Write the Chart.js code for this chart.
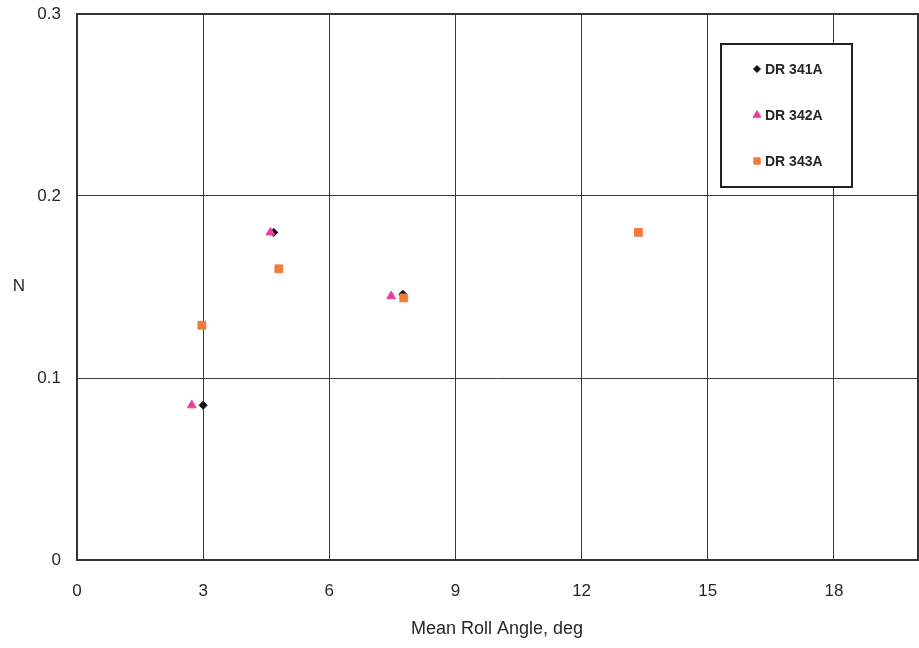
<!DOCTYPE html>
<html><head><meta charset="utf-8">
<script src="https://cdn.jsdelivr.net/npm/chart.js@4.4.1/dist/chart.umd.min.js"></script>
<style>html,body{margin:0;padding:0;background:#fff;} canvas{display:block;}</style>
</head><body>
<canvas id="c" width="919" height="648"></canvas>
<script>
const seriesNames = ['DR 341A', 'DR 342A', 'DR 343A'];
const dr341A_x = [3.0, 4.68, 7.75];
const dr341A_y = [0.085, 0.18, 0.146];
const dr342A_x = [2.73, 4.6, 7.47];
const dr342A_y = [0.085, 0.18, 0.145];
const dr343A_x = [2.97, 4.8, 7.77, 13.35];
const dr343A_y = [0.129, 0.16, 0.144, 0.18];
const xTicks = [0, 3, 6, 9, 12, 15, 18];
const yTicks = [0, 0.1, 0.2, 0.3];
const xTitle = 'Mean Roll Angle, deg';
const yTitle = 'N';

const pts = (xs, ys) => xs.map((x, i) => ({x: x, y: ys[i]}));
const TEXT = '#262626';
const FONT = "'Liberation Sans', Arial, sans-serif";

const framePlugin = {
  id: 'frame',
  afterDraw(chart) {
    const {ctx, chartArea: a} = chart;
    ctx.save();
    ctx.strokeStyle = '#333';
    ctx.lineWidth = 2;
    ctx.strokeRect(a.left, a.top, a.right - a.left, a.bottom - a.top);
    // axis titles
    ctx.fillStyle = TEXT;
    ctx.textAlign = 'center';
    ctx.textBaseline = 'middle';
    ctx.font = '18px ' + FONT;
    ctx.fillText(xTitle, 497, 629);
    ctx.font = '17px ' + FONT;
    ctx.fillText(yTitle, 19, 286);
    // legend
    const bx = 721, by = 44, bw = 131, bh = 143;
    ctx.fillStyle = '#fff';
    ctx.fillRect(bx, by, bw, bh);
    ctx.strokeStyle = '#222';
    ctx.lineWidth = 2;
    ctx.strokeRect(bx, by, bw, bh);
    const rows = [69, 115, 161];
    ctx.font = 'bold 14px ' + FONT;
    ctx.textAlign = 'left';
    chart.data.datasets.forEach((ds, i) => {
      ctx.fillStyle = ds.backgroundColor;
      ctx.strokeStyle = ds.borderColor;
      ctx.lineWidth = 1;
      Chart.helpers.drawPoint(ctx, {pointStyle: ds.pointStyle, radius: ds.legendRadius, rotation: 0, borderWidth: 1}, 757, rows[i]);
      ctx.fillStyle = TEXT;
      ctx.fillText(ds.label, 765, rows[i] + 1);
    });
    ctx.restore();
  }
};

new Chart(document.getElementById('c'), {
  type: 'scatter',
  data: {
    datasets: [
      {label: seriesNames[0], data: pts(dr341A_x, dr341A_y), pointStyle: 'rectRot', pointRadius: 4, legendRadius: 3.5,
       backgroundColor: '#111', borderColor: '#111', borderWidth: 1, order: 2},
      {label: seriesNames[1], data: pts(dr342A_x, dr342A_y), pointStyle: 'triangle', pointRadius: 5, legendRadius: 4.5,
       backgroundColor: '#ec3d9c', borderColor: '#ec3d9c', borderWidth: 1, order: 1},
      {label: seriesNames[2], data: pts(dr343A_x, dr343A_y), pointStyle: 'rect', pointRadius: 5.5, legendRadius: 4.5,
       backgroundColor: '#f27a3c', borderColor: '#f27a3c', borderWidth: 1, order: 0}
    ]
  },
  options: {
    responsive: false,
    animation: false,
    devicePixelRatio: 1,
    layout: {autoPadding: false, padding: {left: 0, top: 14, right: 1, bottom: 0}},
    plugins: {legend: {display: false}, tooltip: {enabled: false}},
    scales: {
      x: {
        type: 'linear', min: 0, max: 20,
        afterBuildTicks: s => { s.ticks = xTicks.map(v => ({value: v})); },
        afterFit: s => { s.height = 88; s.paddingLeft = 0; s.paddingRight = 0; },
        grid: {color: '#3a3a3a', lineWidth: 1, drawTicks: false, tickLength: 0},
        border: {display: false},
        ticks: {color: TEXT, font: {family: FONT, size: 17}, padding: 21, maxRotation: 0, autoSkip: false,
                callback: v => String(v)}
      },
      y: {
        type: 'linear', min: 0, max: 0.3,
        afterBuildTicks: s => { s.ticks = yTicks.map(v => ({value: v})); },
        afterFit: s => { s.width = 77; s.paddingTop = 0; s.paddingBottom = 0; },
        grid: {color: '#3a3a3a', lineWidth: 1, drawTicks: false, tickLength: 0},
        border: {display: false},
        ticks: {color: TEXT, font: {family: FONT, size: 17}, padding: 16, autoSkip: false,
                callback: v => v === 0 ? '0' : Number(v).toFixed(1)}
      }
    }
  },
  plugins: [framePlugin]
});
</script>
</body></html>
